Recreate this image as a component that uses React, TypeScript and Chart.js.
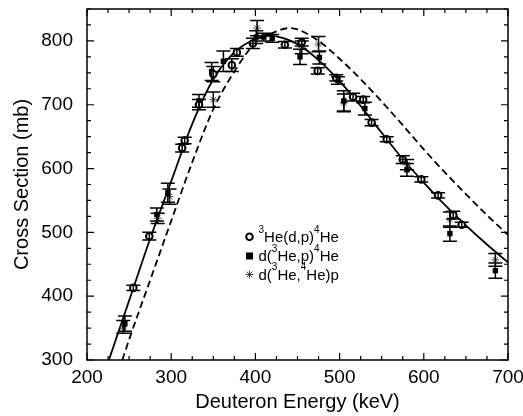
import React, { useEffect, useRef } from 'react';
import { Chart, registerables } from 'chart.js';

Chart.register(...registerables);

// ---- Data ----
const xTickLabels = ['200', '300', '400', '500', '600', '700'];
const yTickLabels = ['300', '400', '500', '600', '700', '800'];

// Solid curve (fit)
const solidE = [226, 250, 275, 300, 325, 350, 375, 400, 415, 425, 450, 475, 500, 525, 550, 575, 600, 625, 650, 675, 700];
const solidSigma = [300, 393, 490, 580, 670, 740, 782, 803, 808, 807, 795, 770, 737, 698, 656, 615, 578, 543, 511, 481, 453];

// Dashed curve
const dashE = [242, 250, 275, 300, 325, 350, 375, 400, 425, 440, 450, 475, 500, 525, 550, 575, 600, 625, 650, 675, 700];
const dashSigma = [300, 332, 425, 518, 610, 693, 752, 797, 815, 820, 818, 800, 772, 740, 705, 668, 630, 594, 560, 527, 496];

// 3He(d,p)4He  (open circles)
const circE = [255, 274, 313, 316, 333, 350, 372, 378, 397, 435, 455, 474, 496, 516, 528, 538, 556, 575, 597, 617, 635, 645];
const circSigma = [413, 494, 632, 644, 700, 748, 762, 782, 796, 794, 798, 753, 742, 712, 708, 672, 646, 614, 583, 558, 527, 512];
const circErr = [4, 6, 6, 5, 8, 12, 10, 6, 8, 5, 6, 5, 5, 6, 5, 5, 4, 6, 4, 4, 6, 4];

// d(3He,p)4He  (filled squares)
const sqE = [245, 283, 296, 333, 348, 362, 401, 410, 420, 453, 476, 498, 505, 530, 580, 631, 685];
const sqSigma = [357, 528, 562, 706, 752, 768, 806, 806, 804, 775, 774, 738, 706, 694, 598, 498, 440];
const sqErr = [12, 10, 15, 10, 14, 16, 10, 6, 6, 12, 10, 6, 16, 10, 10, 12, 12];

// d(3He,4He)p  (stars)
const starE = [243, 284, 298, 350, 402, 455, 475, 505, 580, 631, 685];
const starSigma = [352, 522, 556, 708, 820, 790, 795, 703, 606, 520, 457];
const starErr = [10, 8, 12, 12, 12, 10, 12, 14, 8, 12, 10];

const legendLabels: [string, boolean][][] = [
  [['3', true], ['He(d,p)', false], ['4', true], ['He', false]],
  [['d(', false], ['3', true], ['He,p)', false], ['4', true], ['He', false]],
  [['d(', false], ['3', true], ['He,', false], ['4', true], ['He)p', false]],
];

const FONT = "'Liberation Sans', Arial, Helvetica, sans-serif";

const toPts = (xs: number[], ys: number[]) => xs.map((x, i) => ({ x, y: ys[i] }));

const errorBarPlugin = {
  id: 'errorBars',
  afterDatasetsDraw(chart: any) {
    const ctx = chart.ctx;
    const yScale = chart.scales.y;
    ctx.save();
    chart.data.datasets.forEach((ds: any, i: number) => {
      if (!ds.errors) return;
      const meta = chart.getDatasetMeta(i);
      ctx.strokeStyle = ds.errColor || '#000';
      ctx.lineWidth = 1.5;
      meta.data.forEach((el: any, j: number) => {
        const v = ds.data[j].y;
        const e = ds.errors[j];
        const x = el.x;
        const yTop = yScale.getPixelForValue(v + e);
        const yBot = yScale.getPixelForValue(v - e);
        const cap = 7;
        ctx.beginPath();
        ctx.moveTo(x, yTop);
        ctx.lineTo(x, yBot);
        ctx.moveTo(x - cap, yTop);
        ctx.lineTo(x + cap, yTop);
        ctx.moveTo(x - cap, yBot);
        ctx.lineTo(x + cap, yBot);
        ctx.stroke();
      });
    });
    ctx.restore();
  },
};

const frameTicksPlugin = {
  id: 'frameTicks',
  afterDraw(chart: any) {
    const ctx = chart.ctx;
    const { left, right, top, bottom } = chart.chartArea;
    ctx.save();
    ctx.strokeStyle = '#000';
    ctx.lineWidth = 1.5;
    ctx.strokeRect(left, top, right - left, bottom - top);
    const xs = chart.scales.x;
    const ys = chart.scales.y;
    ctx.lineWidth = 1.2;
    ctx.beginPath();
    xs.ticks.forEach((t: any) => {
      const px = xs.getPixelForValue(t.value);
      const len = t.value % 100 === 0 ? 7 : 4;
      ctx.moveTo(px, bottom);
      ctx.lineTo(px, bottom - len);
      ctx.moveTo(px, top);
      ctx.lineTo(px, top + len);
    });
    ys.ticks.forEach((t: any) => {
      const py = ys.getPixelForValue(t.value);
      const len = t.value % 100 === 0 ? 7 : 4;
      ctx.moveTo(left, py);
      ctx.lineTo(left + len, py);
      ctx.moveTo(right, py);
      ctx.lineTo(right - len, py);
    });
    ctx.stroke();
    ctx.restore();
  },
};

const legendPlugin = {
  id: 'innerLegend',
  afterDraw(chart: any) {
    const ctx = chart.ctx;
    const xs = chart.scales.x;
    const ys = chart.scales.y;
    const mx = xs.getPixelForValue(393);
    const tx = mx + 9;
    const rows = [493, 463, 434].map((v) => ys.getPixelForValue(v));
    ctx.save();
    ctx.fillStyle = '#000';
    ctx.strokeStyle = '#000';
    rows.forEach((y, r) => {
      if (r === 0) {
        ctx.beginPath();
        ctx.lineWidth = 2;
        ctx.arc(mx, y, 3.3, 0, Math.PI * 2);
        ctx.stroke();
      } else if (r === 1) {
        ctx.fillRect(mx - 3.5, y - 3.5, 7, 7);
      } else {
        ctx.lineWidth = 1;
        ctx.strokeStyle = '#444';
        ctx.beginPath();
        const s = 4;
        for (let k = 0; k < 4; k++) {
          const a = (k * Math.PI) / 4;
          ctx.moveTo(mx - s * Math.sin(a), y - s * Math.cos(a));
          ctx.lineTo(mx + s * Math.sin(a), y + s * Math.cos(a));
        }
        ctx.stroke();
        ctx.strokeStyle = '#000';
      }
      let x = tx;
      ctx.textBaseline = 'middle';
      ctx.textAlign = 'left';
      legendLabels[r].forEach(([txt, sup]) => {
        ctx.font = sup ? `10px ${FONT}` : `15px ${FONT}`;
        ctx.fillText(txt, x, sup ? y - 7 : y + 1);
        x += ctx.measureText(txt).width;
      });
    });
    ctx.restore();
  },
};

export default function App() {
  const ref = useRef<HTMLCanvasElement | null>(null);

  useEffect(() => {
    document.body.style.margin = '0';
    const canvas = ref.current;
    if (!canvas) return;
    Chart.defaults.font.family = FONT;
    Chart.defaults.color = '#000';

    const chart = new Chart(canvas, {
      type: 'scatter',
      data: {
        datasets: [
          {
            type: 'scatter',
            label: 'circ',
            data: toPts(circE, circSigma),
            errors: circErr,
            pointStyle: 'circle',
            pointRadius: 3.3,
            pointBackgroundColor: '#fff',
            pointBorderColor: '#000',
            pointBorderWidth: 2,
            order: 1,
          } as any,
          {
            type: 'scatter',
            label: 'sq',
            data: toPts(sqE, sqSigma),
            errors: sqErr,
            pointStyle: 'rect',
            pointRadius: 3.8,
            pointBackgroundColor: '#000',
            pointBorderColor: '#000',
            pointBorderWidth: 0,
            order: 2,
          } as any,
          {
            type: 'scatter',
            label: 'star',
            data: toPts(starE, starSigma),
            errors: starErr,
            errColor: '#000',
            pointStyle: 'star',
            pointRadius: 4,
            pointBorderColor: '#555',
            pointBackgroundColor: '#555',
            pointBorderWidth: 1,
            order: 3,
          } as any,
          {
            type: 'line',
            label: 'solid',
            data: toPts(solidE, solidSigma),
            borderColor: '#000',
            borderWidth: 1.8,
            pointRadius: 0,
            cubicInterpolationMode: 'monotone',
            fill: false,
            order: 10,
          } as any,
          {
            type: 'line',
            label: 'dash',
            data: toPts(dashE, dashSigma),
            borderColor: '#000',
            borderWidth: 1.8,
            borderDash: [7, 4],
            pointRadius: 0,
            cubicInterpolationMode: 'monotone',
            fill: false,
            order: 11,
          } as any,
        ],
      },
      options: {
        responsive: false,
        animation: false,
        events: [],
        layout: { padding: { top: 9, right: 15, left: 0, bottom: 0 } },
        plugins: {
          legend: { display: false },
          tooltip: { enabled: false },
        },
        scales: {
          x: {
            type: 'linear',
            min: 200,
            max: 700,
            grid: { display: false, drawTicks: false },
            border: { display: false },
            ticks: {
              stepSize: 25,
              maxTicksLimit: 100,
              autoSkip: false,
              maxRotation: 0,
              padding: 6,
              font: { size: 19, family: FONT },
              color: '#000',
              callback: (v: any) => (xTickLabels.includes(String(v)) ? String(v) : ''),
            },
            title: {
              display: true,
              text: 'Deuteron Energy (keV)',
              font: { size: 20, family: FONT },
              color: '#000',
              padding: { top: 0, bottom: 2 },
            },
            afterFit: (s: any) => {
              s.height = 56;
              s.paddingLeft = 0;
              s.paddingRight = 0;
            },
          },
          y: {
            type: 'linear',
            min: 300,
            max: 850,
            grid: { display: false, drawTicks: false },
            border: { display: false },
            ticks: {
              stepSize: 25,
              maxTicksLimit: 100,
              autoSkip: false,
              padding: 14,
              font: { size: 19, family: FONT },
              color: '#000',
              callback: (v: any) => (yTickLabels.includes(String(v)) ? String(v) : ''),
            },
            title: {
              display: true,
              text: 'Cross Section (mb)',
              font: { size: 20, family: FONT },
              color: '#000',
              padding: { top: 10, bottom: 0 },
            },
            afterFit: (s: any) => {
              s.width = 87;
              s.paddingTop = 0;
              s.paddingBottom = 0;
            },
          },
        },
      } as any,
      plugins: [errorBarPlugin, frameTicksPlugin, legendPlugin],
    });

    return () => chart.destroy();
  }, []);

  return (
    <div style={{ width: 523, height: 416 }}>
      <canvas ref={ref} width={523} height={416} />
    </div>
  );
}
